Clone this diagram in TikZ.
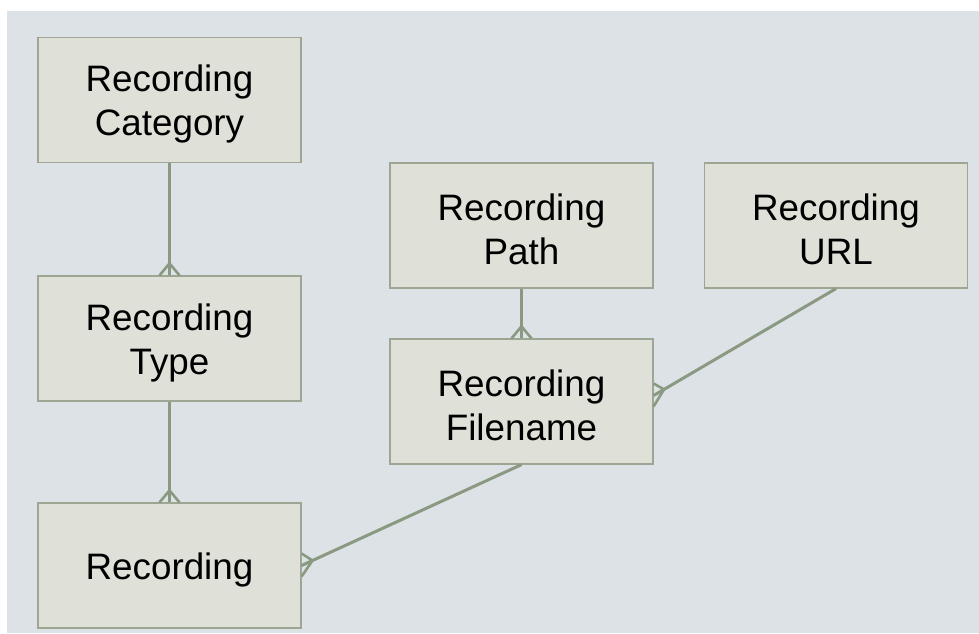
\documentclass[tikz,border=0pt]{standalone}
\usepackage{fontspec}
\setmainfont{Liberation Sans}
\usetikzlibrary{calc}
\definecolor{canvas}{HTML}{DCE2E5}
\definecolor{boxfill}{HTML}{DFE0D8}
\definecolor{boxline}{HTML}{9CA692}
\definecolor{linkcol}{HTML}{8A9982}
\begin{document}
\begin{tikzpicture}[x=1pt,y=-1pt,
  entity/.style={draw=boxline, fill=boxfill, line width=1.2pt,
    minimum width=263pt, minimum height=125pt, inner sep=0pt,
    label={[caption]center:{#1}}},
  caption/.style={align=center, inner sep=0pt, yshift=-4pt,
    font=\fontsize{36.8}{44}\selectfont},
  rel/.style={draw=linkcol, line width=3pt},
  foot/.style={draw=linkcol, line width=2.6pt}]
\useasboundingbox (0,0) rectangle (979,633);
\fill[white] (0,0) rectangle (979,633);
\fill[canvas] (7,11) rectangle (979,633);

% entities
\node[entity={Recording\\Category}] (cat)  at (169.5,100)   {};
\node[entity={Recording\\Type}]     (type) at (169.5,338.5) {};
\node[entity={Recording}]           (rec)  at (169.5,565.5) {};
\node[entity={Recording\\Path}]     (path) at (521.5,225.5) {};
\node[entity={Recording\\URL}]      (url)  at (836,225.5)   {};
\node[entity={Recording\\Filename}] (fn)   at (521.5,401.5) {};

% attachment points on the "many" side
\coordinate (e1) at (type.north);
\coordinate (e2) at (rec.north);
\coordinate (e3) at (fn.north);
\coordinate (e4) at ($(fn.east)+(0,-6)$);
\coordinate (e5) at (rec.east);

% one-to-many relationships
\draw[rel] (cat.south) -- (e1);
\draw[rel] (type.south) -- (e2);
\draw[rel] (path.south) -- (e3);
\draw[rel] (url.south) -- (e4);
\draw[rel] (fn.south) -- (e5);

% crow's feet
\coordinate (a1) at ($(e1)!12pt!(cat.south)$);
\draw[foot] ($(e1)+(-10,0)$) -- (a1) -- ($(e1)+(10,0)$);
\coordinate (a2) at ($(e2)!12pt!(type.south)$);
\draw[foot] ($(e2)+(-10,0)$) -- (a2) -- ($(e2)+(10,0)$);
\coordinate (a3) at ($(e3)!12pt!(path.south)$);
\draw[foot] ($(e3)+(-10,0)$) -- (a3) -- ($(e3)+(10,0)$);
\coordinate (a4) at ($(e4)!12pt!(url.south)$);
\draw[foot] ($(e4)+(0,-12)$) -- (a4) -- ($(e4)+(0,11)$);
\coordinate (a5) at ($(e5)!12pt!(fn.south)$);
\draw[foot] ($(e5)+(0,-12)$) -- (a5) -- ($(e5)+(0,11)$);
\end{tikzpicture}
\end{document}
